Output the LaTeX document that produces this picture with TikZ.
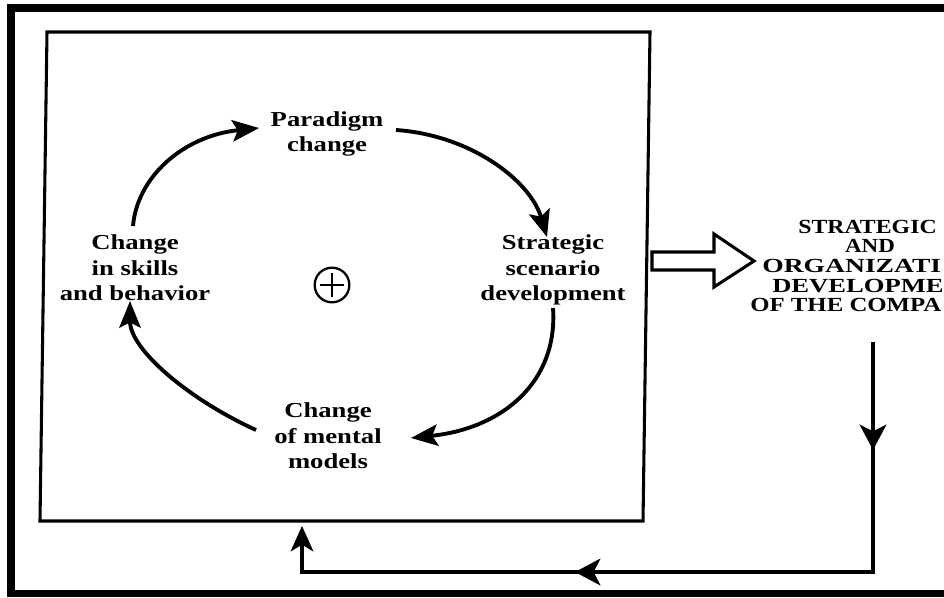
\documentclass[tikz,border=0pt]{standalone}
\usepackage{fontspec}
\newfontfamily\lblfont{Liberation Serif}[FakeStretch=1.25]
\newfontfamily\orgfont{Liberation Serif}
\usetikzlibrary{arrows.meta,decorations.markings}
\tikzset{fbtip/.tip={Stealth[length=19pt,width=20pt,inset=5pt]}}
\begin{document}
\begin{tikzpicture}[x=0.75pt,y=-0.75pt,
  lbl/.style={align=center,inner sep=0pt,font=\lblfont\bfseries\fontsize{16}{19.2}\selectfont},
  orglbl/.style={inner sep=0pt,font=\orgfont\bfseries\fontsize{15}{15}\selectfont},
  cyc/.style={line width=2.9pt,-{Stealth[length=20pt,width=16pt,inset=4pt]}},
  fb/.style={line width=2.4pt},
  boxline/.style={line width=2.3pt,line join=miter}]
\useasboundingbox (0,0) rectangle (944,597);
\clip (0,0) rectangle (944,597);
\fill[white] (0,0) rectangle (944,597);
% outer frame
\fill[black] (7,4) rectangle (960,12);
\fill[black] (7,4) rectangle (15,597);
\fill[black] (7,590) rectangle (960,597);
% inner box
\coordinate (tl) at (47,32);
\coordinate (tr) at (650,32);
\coordinate (br) at (643,521);
\coordinate (bl) at (40,521);
\draw[boxline] (tl) -- (tr) -- (br) -- (bl) -- cycle;
% labels
\node[lbl] (para) at (327,134) {Paradigm\\change};
\node[lbl] (strat) at (553,270) {Strategic\\scenario\\development};
\node[lbl] (mental) at (328,436) {Change\\of mental\\models};
\node[lbl] (skills) at (135,268) {Change\\in skills\\and behavior};
% right text (cut off at the picture's edge as in the reference)
\node[orglbl,anchor=base west] (org1) at (798,233) {\scalebox{1.19}[1]{STRATEGIC}};
\node[orglbl,anchor=base] (org2) at (870,252) {\scalebox{1.15}[1]{AND}};
\node[orglbl,anchor=base west] (org3) at (762,272) {\scalebox{1.38}[1]{ORGANIZATI}};
\node[orglbl,anchor=base west] (org4) at (772,292) {\scalebox{1.33}[1]{DEVELOPME}};
\node[orglbl,anchor=base west] (org5) at (750,311) {\scalebox{1.24}[1]{OF THE COMPA}};
% plus circle
\node[circle,draw,line width=1.7pt,minimum size=26pt,inner sep=0pt] (plus) at (332,285) {};
\draw[line width=1.2pt] ([xshift=-9pt]plus.center) -- ([xshift=9pt]plus.center);
\draw[line width=1.2pt] ([yshift=-9pt]plus.center) -- ([yshift=9pt]plus.center);
% cycle arrows
\coordinate (a1s) at (133,226); \coordinate (a1e) at (259,128);
\coordinate (a2s) at (396,130); \coordinate (a2e) at (547,237);
\coordinate (a3s) at (553,308); \coordinate (a3e) at (411,438);
\coordinate (a4s) at (256,430); \coordinate (a4e) at (130,301);
\draw[cyc] (a1s) .. controls (137,178) and (182,136) .. (a1e);
\draw[cyc] (a2s) .. controls (470,135) and (530,180) .. (a2e);
\draw[cyc] (a3s) .. controls (558,380) and (505,428) .. (a3e);
\draw[cyc] (a4s) .. controls (190,400) and (130,350) .. (a4e);
% hollow arrow
\draw[line width=2.3pt,line join=miter,fill=white] (652,252) -- (714,252) -- (714,234) -- (754,261) -- (714,287) -- (714,270) -- (652,270) -- cycle;
% feedback loop
\coordinate (fbtop) at (873,342);
\coordinate (fbc1) at (873,572);
\coordinate (fbc2) at (302,572);
\coordinate (fbend) at (302,526);
\draw[fb,-{Stealth[length=19pt,width=17pt,inset=5pt]},
  postaction={decorate},
  decoration={markings,
    mark=at position 81pt with {\arrow{fbtip}},
    mark=at position 396pt with {\arrow{fbtip}}}]
  (fbtop) -- (fbc1) -- (fbc2) -- (fbend);
\end{tikzpicture}
\end{document}
